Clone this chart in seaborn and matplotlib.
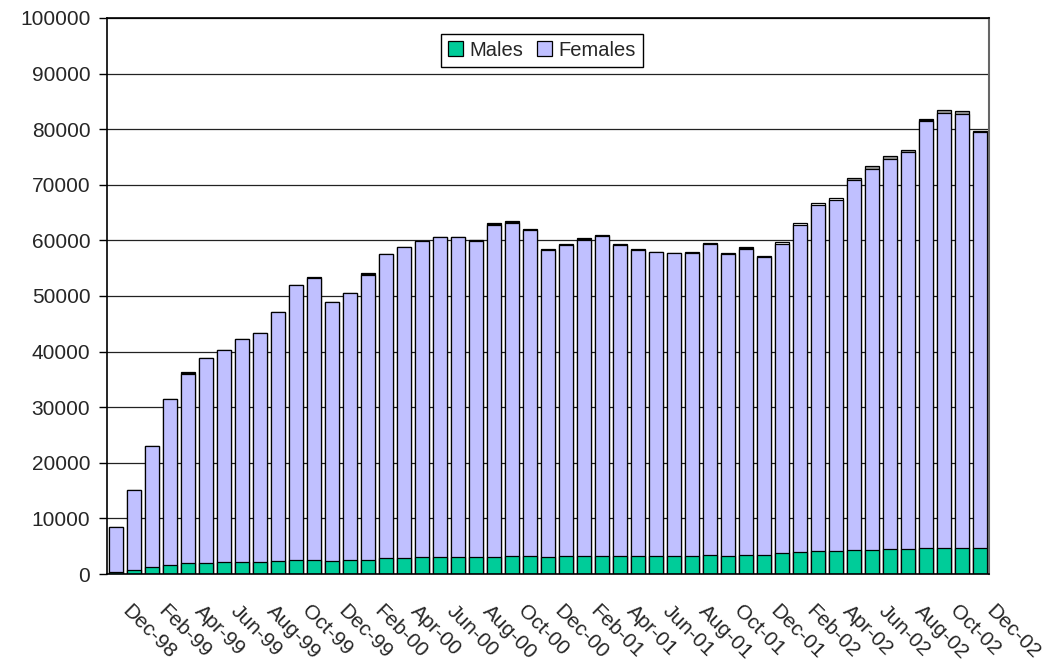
import numpy as np
import pandas as pd
import matplotlib
matplotlib.use("Agg")
import matplotlib.pyplot as plt
import matplotlib.transforms as mtransforms
from matplotlib.patches import Patch
import seaborn as sns

# monthly counts, Dec-98 .. Dec-02
months = pd.date_range("1998-12-01", periods=49, freq="MS").strftime("%b-%y").tolist()

males = [400, 800, 1200, 1700, 1900, 1900, 2100, 2100, 2100, 2300,
         2600, 2600, 2400, 2600, 2600, 2800, 2800, 3000, 3000, 3000,
         3000, 3000, 3200, 3200, 3000, 3200, 3200, 3200, 3200, 3200,
         3200, 3200, 3200, 3400, 3200, 3400, 3400, 3700, 3900, 4100,
         4100, 4300, 4300, 4500, 4500, 4700, 4700, 4700, 4700]

females = [8100, 14300, 21800, 29800, 34100, 37000, 38200, 40200, 41200, 44900,
           49300, 50600, 46600, 47900, 51200, 54800, 56000, 56900, 57600, 57600,
           56900, 59800, 60000, 58600, 55200, 55900, 56900, 57600, 55900, 55000,
           54800, 54600, 54500, 55900, 54300, 55100, 53600, 55600, 58800, 62200,
           63100, 66600, 68600, 70200, 71400, 76800, 78300, 78100, 74800]

# small unlabelled remainder on top of the bars
other = [0, 0, 0, 0, 250, 0, 0, 0, 0, 0,
         0, 250, 0, 0, 250, 0, 0, 0, 0, 0,
         250, 250, 250, 250, 250, 250, 250, 250, 250, 250,
         0, 0, 250, 250, 250, 250, 250, 400, 400, 400,
         400, 400, 400, 400, 400, 250, 400, 400, 250]

other_colors = (["#000000"] * 37 + ["#FFFFFF"] * 4 + ["#999999"] * 4
                + ["#000000", "#999999", "#999999", "#000000"])

df = pd.DataFrame({"Month": months, "Males": males, "Females": females, "Other": other})
df["MF"] = df["Males"] + df["Females"]
df["Total"] = df["MF"] + df["Other"]

sns.set_style("white")
plt.rcParams["font.family"] = ["Liberation Sans", "DejaVu Sans"]

GREEN = "#00CC99"
LAVENDER = "#C0C0FF"

fig = plt.figure(figsize=(10.48, 6.68), dpi=100)
ax = fig.add_axes([107 / 1048, 1 - 574 / 668, 882 / 1048, 556 / 668])

bar_kw = dict(width=0.78, saturation=1, edgecolor="black", linewidth=0.9, ax=ax)
sns.barplot(data=df, x="Month", y="Total", hue="Month", palette=other_colors,
            legend=False, **bar_kw)
sns.barplot(data=df, x="Month", y="MF", color=LAVENDER, **bar_kw)
sns.barplot(data=df, x="Month", y="Males", color=GREEN, **bar_kw)

ax.set_ylim(0, 100000)
ax.set_xlim(-0.5, len(months) - 0.5)
ax.set_yticks(np.arange(0, 100001, 10000))
ax.set_yticklabels([str(v) for v in range(0, 100001, 10000)], fontsize=15)
ax.yaxis.grid(True, color="#222222", linewidth=0.9)
ax.set_axisbelow(True)
ax.set_xlabel("")
ax.set_ylabel("")

# category ticks at boundaries, labels every other month
ax.set_xticks(np.arange(0, len(months), 2))
ax.set_xticklabels(months[::2], rotation=-45, ha="left", va="top",
                   rotation_mode="anchor", fontsize=15)
ax.set_xticks(np.arange(-0.5, len(months), 1), minor=True)
ax.tick_params(axis="x", which="major", length=0, pad=20)
ax.tick_params(axis="x", which="minor", length=6, width=1, color="black", direction="out")
ax.tick_params(axis="y", length=6, width=1, color="black", direction="out", left=True, pad=6)
offset = mtransforms.ScaledTranslation(0.16, 0, fig.dpi_scale_trans)
for lab in ax.get_xticklabels():
    lab.set_transform(lab.get_transform() + offset)

for side in ["left", "bottom"]:
    ax.spines[side].set_color("black")
    ax.spines[side].set_linewidth(1.2)
ax.spines["top"].set_color("black")
ax.spines["top"].set_linewidth(1.2)
ax.spines["right"].set_color("#666666")
ax.spines["right"].set_linewidth(1.5)

handles = [Patch(facecolor=GREEN, edgecolor="black", linewidth=0.9),
           Patch(facecolor=LAVENDER, edgecolor="black", linewidth=0.9)]
leg = ax.legend(handles, ["Males", "Females"], ncol=2, loc="center",
                bbox_to_anchor=(0.493, 0.942), fontsize=14.5, frameon=True,
                fancybox=False, edgecolor="black", framealpha=1,
                handlelength=0.75, handleheight=0.75, handletextpad=0.3,
                columnspacing=0.7, borderpad=0.35)
leg.get_frame().set_linewidth(1.0)

fig.savefig("out.png", dpi=100)
